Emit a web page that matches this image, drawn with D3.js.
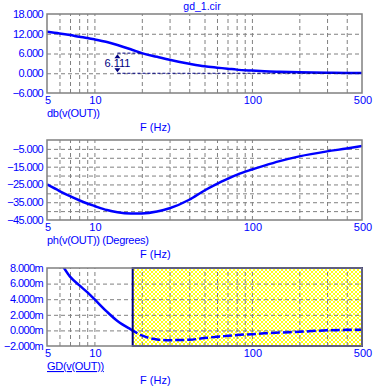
<html>
<head>
    <meta charset="UTF-8" />
    <script src="https://d3js.org/d3.v7.min.js"></script>
    <style>
        body { margin: 0; background: white; }
        text { font-family: Arial, "Liberation Sans", sans-serif; fill: #0000ff; }
        .gridlines line { stroke: #808080; stroke-dasharray: 4,3; }
        .gridlines .domain { stroke: none; }
    </style>
</head>
<body>
<svg height="392" width="376" id="svg1"></svg>
<script>
    // data
    const freqs   = [5, 6, 7, 8, 9, 10, 12, 14, 17, 20, 25, 30, 40, 50, 60, 70, 80, 100, 120, 150, 200, 300, 400, 500];
    const dbVals  = [12.6, 12.1, 11.6, 11.1, 10.7, 10.3, 9.5, 8.6, 7.3, 6.111, 5.0, 4.1, 2.9, 2.1, 1.7, 1.4, 1.1, 0.8, 0.6, 0.45, 0.3, 0.15, 0.1, 0.05];
    const phVals  = [-25, -28.7, -31.6, -33.9, -35.7, -37.1, -39.4, -40.7, -41.4, -41.3, -40.2, -38.4, -33.6, -28.4, -24.7, -21.9, -19.6, -16.6, -14.4, -11.9, -9.2, -6.4, -4.8, -3.4];
    const gdVals  = [11.2, 8.9, 6.9, 5.8, 4.9, 4.0, 2.4, 1.2, 0.13, -0.65, -1.16, -1.25, -1.2, -0.98, -0.82, -0.7, -0.6, -0.48, -0.38, -0.28, -0.18, 0.02, 0.07, 0.08];

    const xTickLabels = [5, 10, 100, 500];
    const xGrid = [6, 7, 8, 9, 10, 20, 30, 40, 50, 60, 70, 80, 90, 100, 200, 300, 400];

    const dbTicks = [18, 12, 6, 0, -6];
    const dbGrid  = [12, 6, 0];
    const phTicks = [-5, -15, -25, -35, -45];
    const phGrid  = [-5, -10, -15, -20, -25, -30, -35, -40];
    const gdTicks = [8, 6, 4, 2, 0, -2];
    const gdGrid  = [6, 4, 2, 0];

    const markerFreq = 14, markerRef = 20, markerValue = 6.111;
    const cursorStart = 17.5;

    const svg1 = d3.select('svg#svg1');
    const margin = {left: 47, right: 14};
    const width = 376;

    const xScale = d3.scaleLog().domain([5, 500]).range([margin.left, width - margin.right]);

    svg1.append("text").attr("x", 202).attr("y", 10)
        .attr("text-anchor", "middle").style("font-size", "10.5px")
        .text("gd_1.cir");

    function drawPanel(cfg) {
        const yScale = d3.scaleLinear().domain(cfg.domain).range([cfg.bottom, cfg.top]);
        const g = svg1.append("g").attr("id", cfg.id);
        const clipId = cfg.id + "-clip";
        svg1.append("clipPath").attr("id", clipId)
            .append("rect")
            .attr("x", xScale.range()[0]).attr("y", cfg.top)
            .attr("width", xScale.range()[1] - xScale.range()[0])
            .attr("height", cfg.bottom - cfg.top);

        // hatched cursor region (drawn under gridlines)
        if (cfg.hatch) {
            g.append("rect")
                .attr("x", xScale(cfg.hatch)).attr("y", cfg.top)
                .attr("width", xScale(500) - xScale(cfg.hatch))
                .attr("height", cfg.bottom - cfg.top)
                .style("fill", "url(#hatch)");
        }

        // gridlines
        g.append("g").attr("class", "gridlines")
            .attr("transform", "translate(" + margin.left + ",0)")
            .call(d3.axisLeft(yScale).tickValues(cfg.grid).tickSize(-(xScale.range()[1] - margin.left)).tickFormat(""));
        g.append("g").attr("class", "gridlines")
            .attr("transform", "translate(0," + cfg.bottom + ")")
            .call(d3.axisBottom(xScale).tickValues(xGrid).tickSize(-(cfg.bottom - cfg.top)).tickFormat(""));

        // y labels
        g.selectAll("text.ylab").data(cfg.ticks).join("text")
            .attr("class", "ylab")
            .attr("x", 43).attr("y", d => yScale(d))
            .attr("dy", "0.35em")
            .attr("text-anchor", "end")
            .style("font-size", "11px").style("letter-spacing", "-0.6px")
            .text(d => d3.format(".3f")(d) + (cfg.suffix || ""));

        // x labels
        g.selectAll("text.xlab").data(xTickLabels).join("text")
            .attr("class", "xlab")
            .attr("x", d => xScale(d) + 1).attr("y", cfg.bottom + 11)
            .attr("text-anchor", "middle")
            .style("font-size", "11px")
            .text(d => d);

        g.append("text").attr("x", margin.left).attr("y", cfg.bottom + 24)
            .style("font-size", "11px").style("letter-spacing", "-0.3px")
            .style("text-decoration", cfg.underline ? "underline" : "none")
            .text(cfg.label);
        g.append("text").attr("x", 140).attr("y", cfg.bottom + 38)
            .style("font-size", "11px")
            .text("F (Hz)");

        const lineGen = d3.line()
            .x((d, i) => xScale(freqs[i]))
            .y(d => yScale(d))
            .curve(d3.curveMonotoneX);

        if (cfg.hatch) {
            svg1.append("clipPath").attr("id", clipId + "L").append("rect")
                .attr("x", margin.left).attr("y", cfg.top)
                .attr("width", xScale(cfg.hatch) - margin.left).attr("height", cfg.bottom - cfg.top);
            svg1.append("clipPath").attr("id", clipId + "R").append("rect")
                .attr("x", xScale(cfg.hatch)).attr("y", cfg.top)
                .attr("width", xScale(500) - xScale(cfg.hatch)).attr("height", cfg.bottom - cfg.top);
            g.append("path").attr("d", lineGen(cfg.values))
                .attr("clip-path", "url(#" + clipId + "L)")
                .style("fill", "none").style("stroke", "#0000ff").style("stroke-width", 2.5);
            g.append("path").attr("d", lineGen(cfg.values))
                .attr("clip-path", "url(#" + clipId + "R)")
                .style("fill", "none").style("stroke", "#0000ff").style("stroke-width", 2.5)
                .style("stroke-dasharray", "9,3");
            g.append("rect")
                .attr("x", xScale(cfg.hatch)).attr("y", cfg.top)
                .attr("width", xScale(500) - xScale(cfg.hatch))
                .attr("height", cfg.bottom - cfg.top)
                .style("fill", "none").style("stroke", "#000080").style("stroke-width", 2);
        } else {
            g.append("path").attr("d", lineGen(cfg.values))
                .attr("clip-path", "url(#" + clipId + ")")
                .style("fill", "none").style("stroke", "#0000ff").style("stroke-width", 2.5);
        }

        // frame
        g.append("rect")
            .attr("x", margin.left).attr("y", cfg.top)
            .attr("width", xScale.range()[1] - margin.left)
            .attr("height", cfg.bottom - cfg.top)
            .style("fill", "none").style("stroke", "#808080").style("stroke-width", 1.5);

        return {g: g, yScale: yScale};
    }

    // hatch pattern
    const pat = svg1.append("defs").append("pattern")
        .attr("id", "hatch").attr("patternUnits", "userSpaceOnUse")
        .attr("width", 4).attr("height", 4);
    pat.append("rect").attr("width", 4).attr("height", 4).style("fill", "white");
    pat.append("path").attr("d", "M0,0L4,4M4,0L0,4")
        .style("stroke", "#ffff00").style("stroke-width", 0.9);

    const p1 = drawPanel({id: "db", top: 14, bottom: 93, domain: [-6, 18], ticks: dbTicks, grid: dbGrid,
                          values: dbVals, label: "db(v(OUT))"});
    drawPanel({id: "ph", top: 140, bottom: 220, domain: [-45, 0], ticks: phTicks, grid: phGrid,
               values: phVals, label: "ph(v(OUT)) (Degrees)"});
    drawPanel({id: "gd", top: 268, bottom: 346, domain: [-2, 8], ticks: gdTicks, grid: gdGrid,
               values: gdVals, label: "GD(v(OUT))", suffix: "m", underline: true, hatch: cursorStart});

    // delta marker on the dB plot
    const mx = xScale(markerFreq);
    const y1 = p1.yScale(markerValue), y0 = p1.yScale(0);
    const mk = p1.g.append("g").attr("id", "marker");
    mk.append("line").attr("x1", mx).attr("x2", xScale(markerRef)).attr("y1", y1).attr("y2", y1)
        .style("stroke", "#000080").style("stroke-dasharray", "3,2");
    mk.append("line").attr("x1", mx).attr("x2", xScale(500)).attr("y1", y0).attr("y2", y0)
        .style("stroke", "#000080").style("stroke-dasharray", "3,2");
    mk.append("path").attr("d", "M" + mx + "," + (y1 + 1) + "l-3,4h6z").style("fill", "#000080");
    mk.append("path").attr("d", "M" + mx + "," + (y0 - 1) + "l-3,-4h6z").style("fill", "#000080");
    mk.append("text").attr("x", mx).attr("y", (y1 + y0) / 2 + 4)
        .attr("text-anchor", "middle").style("font-size", "11px").style("fill", "#000080")
        .text(d3.format(".3f")(markerValue));
</script>
</body>
</html>
